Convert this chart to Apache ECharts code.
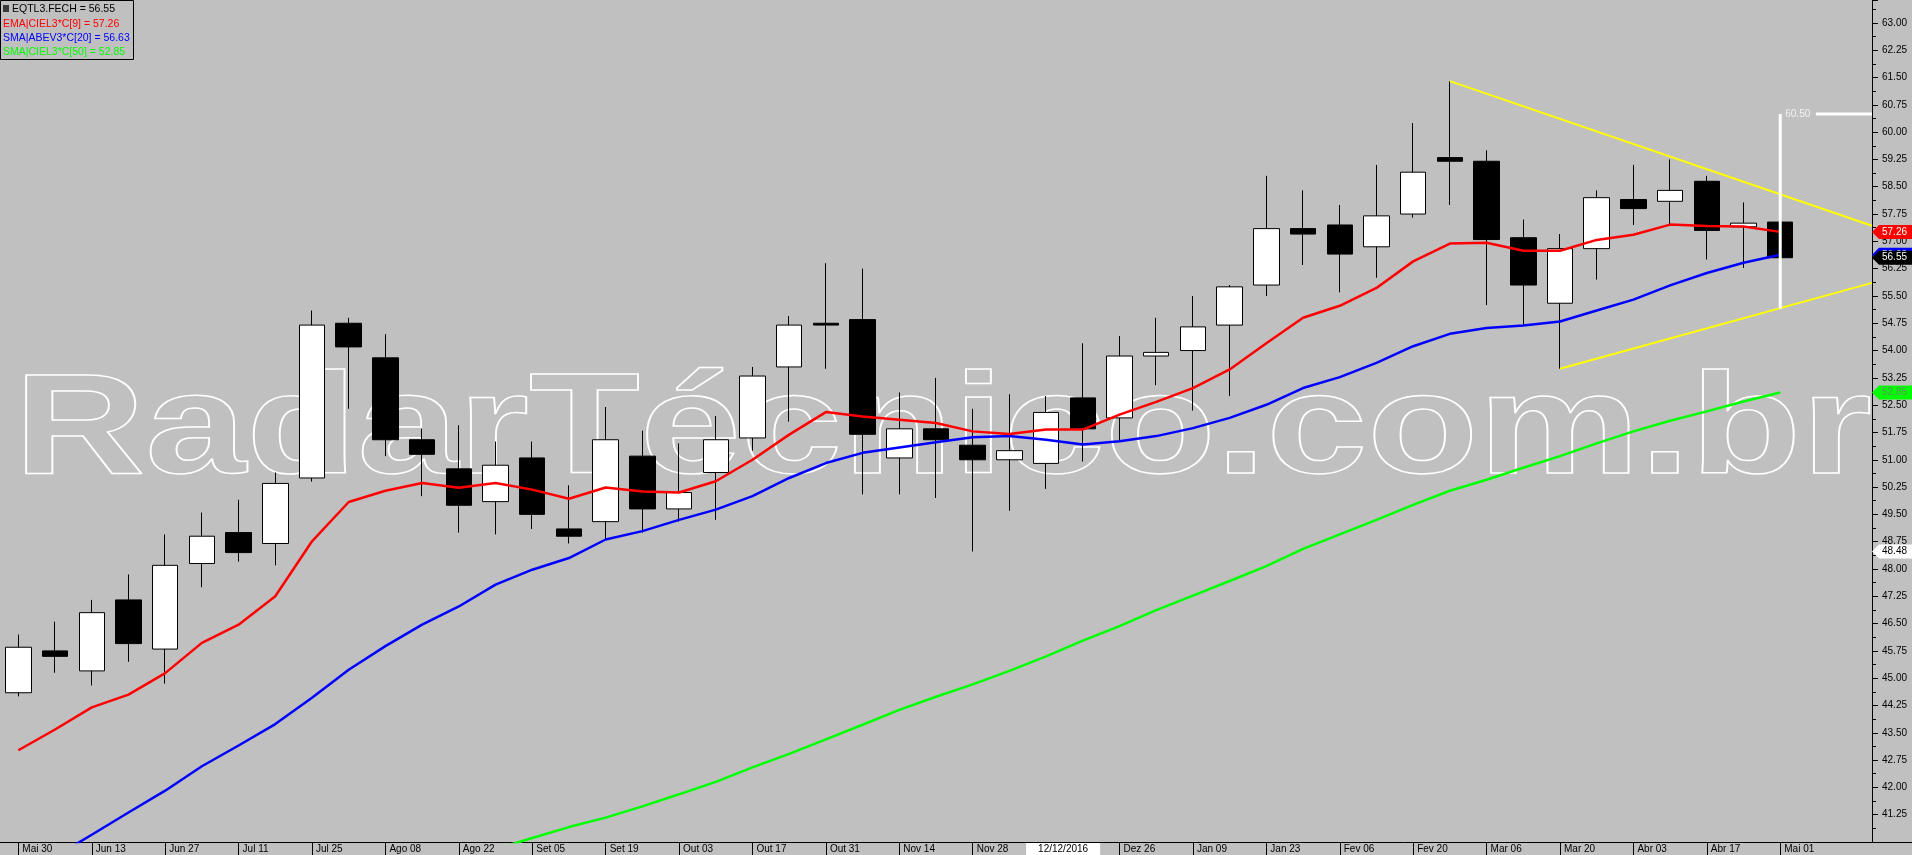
<!DOCTYPE html>
<html><head><meta charset="utf-8">
<script src="https://cdn.jsdelivr.net/npm/echarts@6/dist/echarts.min.js"></script>
<style>html,body{margin:0;padding:0;background:#c0c0c0;overflow:hidden}#c{width:1912px;height:855px}</style>
</head><body><div id="c"></div>
<script>
// ---------- data ----------
const DATES = ['Mai 30','Jun 06','Jun 13','Jun 20','Jun 27','Jul 04','Jul 11','Jul 18','Jul 25','Ago 01','Ago 08','Ago 15','Ago 22','Ago 29','Set 05','Set 12','Set 19','Set 26','Out 03','Out 10','Out 17','Out 24','Out 31','Nov 07','Nov 14','Nov 21','Nov 28','Dez 05','12/12/2016','Dez 19','Dez 26','Jan 02','Jan 09','Jan 16','Jan 23','Jan 30','Fev 06','Fev 13','Fev 20','Fev 27','Mar 06','Mar 13','Mar 20','Mar 27','Abr 03','Abr 10','Abr 17','Abr 24','Mai 01'];
const EMPTY_SLOTS = ['', ''];
const HIGHLIGHT_INDEX = 28;
const OPEN  = [44.6,45.75,45.2,47.15,45.8,48.15,49.0,48.7,50.5,54.75,53.8,51.55,50.75,49.85,51.05,49.1,49.3,51.1,49.65,50.65,51.6,53.55,54.75,54.85,51.05,51.85,51.4,51.0,50.9,52.7,52.15,53.85,54.0,54.7,55.8,57.35,57.45,56.85,57.75,59.3,59.2,57.1,55.3,56.8,58.15,58.1,58.65,57.4,57.53];
const CLOSE = [45.85,45.6,46.8,45.95,48.1,48.9,48.45,50.35,54.7,54.1,51.55,51.15,49.75,50.85,49.5,48.9,51.55,49.65,50.1,51.55,53.3,54.7,54.7,51.7,51.85,51.55,51.0,51.25,52.3,51.85,53.85,53.95,54.65,55.75,57.35,57.2,56.65,57.7,58.9,59.2,57.05,55.8,56.8,58.2,57.9,58.4,57.3,57.5,56.55];
const LOW   = [44.5,45.15,44.8,45.45,44.85,47.5,48.2,48.1,50.4,52.4,51.1,50.0,49.0,48.95,49.1,48.7,48.8,49.0,49.3,49.35,51.25,52.05,53.5,50.05,50.05,49.95,48.48,49.6,50.2,50.95,51.5,53.05,52.35,52.75,55.5,56.35,55.6,56.0,57.65,58.0,55.25,54.7,53.5,55.95,57.45,57.45,56.5,56.27,56.55];
const HIGH  = [46.2,46.55,47.15,47.85,48.95,49.55,49.9,50.65,55.1,54.9,54.45,51.85,51.95,51.5,51.5,50.3,52.45,51.8,51.45,52.2,53.55,54.95,56.4,56.25,52.85,53.25,52.4,52.8,52.75,54.2,54.4,54.9,55.5,55.8,58.8,58.4,58.0,59.1,60.25,61.4,59.5,57.6,57.2,58.4,59.1,59.25,58.8,58.07,57.53];
const EMA9  = [43.02,43.59,44.2,44.55,45.14,45.97,46.47,47.25,48.76,49.84,50.15,50.36,50.23,50.36,50.18,49.93,50.24,50.13,50.1,50.41,51.0,51.69,52.31,52.19,52.1,52.01,51.78,51.71,51.83,51.83,52.24,52.59,52.97,53.48,54.2,54.9,55.23,55.72,56.45,56.94,56.96,56.74,56.74,57.04,57.18,57.46,57.42,57.41,57.26];
const SMA20 = [39.5,40.1,40.7,41.31,41.91,42.58,43.15,43.74,44.46,45.23,45.88,46.47,46.97,47.57,47.98,48.3,48.81,49.04,49.35,49.63,50.0,50.5,50.91,51.19,51.34,51.48,51.62,51.65,51.55,51.42,51.51,51.65,51.87,52.15,52.51,52.97,53.27,53.66,54.12,54.46,54.62,54.69,54.8,55.1,55.4,55.79,56.13,56.41,56.63];
const SMA50 = [null,null,null,null,null,null,null,null,null,null,null,null,null,40.3,40.61,40.91,41.17,41.48,41.81,42.15,42.55,42.92,43.32,43.72,44.13,44.49,44.83,45.2,45.6,46.03,46.43,46.87,47.27,47.67,48.08,48.55,48.95,49.35,49.76,50.15,50.45,50.78,51.1,51.45,51.78,52.07,52.33,52.6,52.85];
const CURSOR_VALUE = 48.48;
// trend lines (week index, price) and measure tool
const TREND_UPPER = [[39, 61.4], [50.5, 57.43]];
const TREND_LOWER = [[42, 53.5], [50.5, 55.86]];
const MEASURE_INDEX = 48, MEASURE_TOP = 60.5, MEASURE_BOTTOM = 55.15;
const Y_MIN = 40.5, Y_MAX = 63.63, Y_STEP = 0.75;
const WATERMARK = 'RadarTécnico.com.br';
const TICKER = 'EQTL3.FECH', EMA_NAME = 'EMA|CIEL3*C[9]', SMA20_NAME = 'SMA|ABEV3*C[20]', SMA50_NAME = 'SMA|CIEL3*C[50]';

// ---------- derived ----------
const N = DATES.length;
const last = a => a[a.length - 1];
const candles = DATES.map((d, i) => [OPEN[i], CLOSE[i], LOW[i], HIGH[i]]);
const axisCats = DATES.concat(EMPTY_SLOTS);
const X_END = N + EMPTY_SLOTS.length - 0.5;
const TAGS = [
  { value: last(SMA20), bg: '#0000ff', fg: '#ffffff' },
  { value: last(CLOSE), bg: '#000000', fg: '#ffffff' },
  { value: last(EMA9),  bg: '#ff0000', fg: '#ffffff' },
  { value: last(SMA50), bg: '#00ff00', fg: '#5f8f5f' },
  { value: CURSOR_VALUE, bg: '#ffffff', fg: '#000000' }
];
const FONT = '"Liberation Sans", Arial, sans-serif';
const WM_SIZE = 143;
const WM_FONT = 'bold ' + WM_SIZE + 'px "Liberation Sans"';

const chart = echarts.init(document.getElementById('c'), null, { renderer: 'canvas' });

const cv = document.createElement('canvas').getContext('2d');
cv.font = WM_FONT;
const wmScale = 1858 / cv.measureText(WATERMARK).width;

const lineS = (name, data, color, w) => ({
  name, type: 'line', data, symbol: 'none', z: 5, clip: true,
  lineStyle: { color, width: w }, itemStyle: { color }, animation: false
});

chart.setOption({
  backgroundColor: '#c0c0c0',
  animation: false,
  grid: { left: 0, right: 40, top: 0, bottom: 13, containLabel: false },
  xAxis: [{
    type: 'category', data: axisCats, boundaryGap: true,
    axisLine: { onZero: false, lineStyle: { color: '#000', width: 1 } },
    axisTick: { show: true, alignWithLabel: true, length: 13, lineStyle: { color: '#000' },
      interval: (i, v) => i % 2 === 0 && v !== '' && i !== HIGHLIGHT_INDEX },
    axisLabel: { interval: (i, v) => i % 2 === 0 && v !== '', align: 'left', margin: 2,
      padding: [0, 0, 0, 4], fontSize: 10, fontFamily: FONT, color: '#000',
      formatter: (v, i) => (i === HIGHLIGHT_INDEX ? '' : v) },
    splitLine: { show: false }
  }, {
    type: 'value', min: -0.5, max: X_END, show: false,
    axisLine: { show: false, onZero: false }, axisTick: { show: false }, axisLabel: { show: false }, splitLine: { show: false }
  }],
  yAxis: [{
    type: 'value', position: 'right', min: Y_MIN, max: Y_MAX, interval: Y_STEP,
    axisLine: { show: true, onZero: false, lineStyle: { color: '#000' } },
    axisTick: { show: true, length: 6, lineStyle: { color: '#000' } },
    minorTick: { show: true, splitNumber: 2, length: 4, lineStyle: { color: '#000' } },
    axisLabel: { margin: 10, fontSize: 10, fontFamily: FONT, color: '#000',
      showMinLabel: false, showMaxLabel: false, formatter: v => v.toFixed(2) },
    splitLine: { show: false }
  }],
  graphic: [
    { type: 'text', x: 14, y: 0, scaleX: wmScale, z: 1, silent: true,
      style: { text: WATERMARK, x: 0, y: 483.3 - 0.3465 * WM_SIZE, font: WM_FONT,
        fill: 'rgba(0,0,0,0)', stroke: '#ffffff', lineWidth: 1.5, verticalAlign: 'middle', align: 'left' } },
    { type: 'line', z: 10, shape: { x1: 1872, y1: 842.5, x2: 1912, y2: 842.5 }, style: { stroke: '#000', lineWidth: 1 } },
    { type: 'rect', z: 100, shape: { x: 0.5, y: 0.5, width: 133, height: 59 }, style: { fill: 'rgba(0,0,0,0)', stroke: '#000', lineWidth: 1 } },
    { type: 'rect', z: 100, shape: { x: 3, y: 5, width: 6, height: 7 }, style: { fill: '#3a3a3a' } },
    { type: 'text', z: 100, style: { text: TICKER + ' = ' + last(CLOSE).toFixed(2), x: 12, y: 9, verticalAlign: 'middle', font: '10.5px ' + FONT, fill: '#000' } },
    { type: 'text', z: 100, style: { text: EMA_NAME + ' = ' + last(EMA9).toFixed(2), x: 3, y: 24, verticalAlign: 'middle', font: '10.5px ' + FONT, fill: '#ff0000' } },
    { type: 'text', z: 100, style: { text: SMA20_NAME + ' = ' + last(SMA20).toFixed(2), x: 3, y: 38.5, verticalAlign: 'middle', font: '10.5px ' + FONT, fill: '#0000ff' } },
    { type: 'text', z: 100, style: { text: SMA50_NAME + ' = ' + last(SMA50).toFixed(2), x: 3, y: 52.5, verticalAlign: 'middle', font: '10.5px ' + FONT, fill: '#00ff00' } }
  ],
  series: [
    { name: TICKER, type: 'candlestick', data: candles, barWidth: 26, z: 3,
      itemStyle: { color: '#ffffff', color0: '#000000', borderColor: '#000000', borderColor0: '#000000', borderWidth: 1 } },
    lineS(SMA50_NAME, SMA50, '#00ff00', 2.5),
    lineS(SMA20_NAME, SMA20, '#0000ff', 2.5),
    lineS(EMA_NAME, EMA9, '#ff0000', 2.5),
    Object.assign(lineS('upper', TREND_UPPER, '#ffff00', 2), { xAxisIndex: 1 }),
    Object.assign(lineS('lower', TREND_LOWER, '#ffff00', 2), { xAxisIndex: 1 }),
    Object.assign(lineS('measure', [[MEASURE_INDEX, MEASURE_BOTTOM], [MEASURE_INDEX, MEASURE_TOP]], '#ffffff', 3), { xAxisIndex: 1, z: 8 }),
    Object.assign(lineS('measureH', [[MEASURE_INDEX + 0.97, MEASURE_TOP], [X_END, MEASURE_TOP]], '#ffffff', 3), { xAxisIndex: 1, z: 8 }),
    { type: 'scatter', xAxisIndex: 1, data: [[MEASURE_INDEX, MEASURE_TOP]], symbolSize: 0, z: 9,
      label: { show: true, position: 'right', distance: 5, formatter: p => p.value[1].toFixed(2),
        color: '#ffffff', fontSize: 10, fontFamily: FONT } },
    { type: 'custom', xAxisIndex: 1, z: 20, clip: false,
      data: TAGS.map(t => [0, t.value]),
      renderItem: (params, api) => {
        const t = TAGS[params.dataIndex];
        const y = api.coord([0, api.value(1)])[1];
        const x0 = params.coordSys.x + params.coordSys.width;
        const h = 14, w = 40, tip = 7;
        return { type: 'group', children: [
          { type: 'polygon', shape: { points: [[x0, y], [x0 + tip, y - h / 2], [x0 + w, y - h / 2], [x0 + w, y + h / 2], [x0 + tip, y + h / 2]] }, style: { fill: t.bg } },
          { type: 'text', style: { text: api.value(1).toFixed(2), x: x0 + 10, y: y, verticalAlign: 'middle', fill: t.fg, font: '10px ' + FONT } }
        ] };
      } },
    { type: 'custom', xAxisIndex: 0, z: 20, clip: false,
      data: [[HIGHLIGHT_INDEX, Y_MIN]],
      renderItem: (params, api) => {
        const x = api.coord([api.value(0), api.value(1)])[0];
        const cs = params.coordSys;
        const top = cs.y + cs.height + 1;
        return { type: 'group', children: [
          { type: 'rect', shape: { x: x - 20, y: top, width: 74, height: 855 - top }, style: { fill: '#ffffff' } },
          { type: 'text', style: { text: DATES[HIGHLIGHT_INDEX], x: x + 17, y: top + 6, align: 'center', verticalAlign: 'middle', fill: '#000', font: '10px ' + FONT } }
        ] };
      } }
  ]
});
</script></body></html>
